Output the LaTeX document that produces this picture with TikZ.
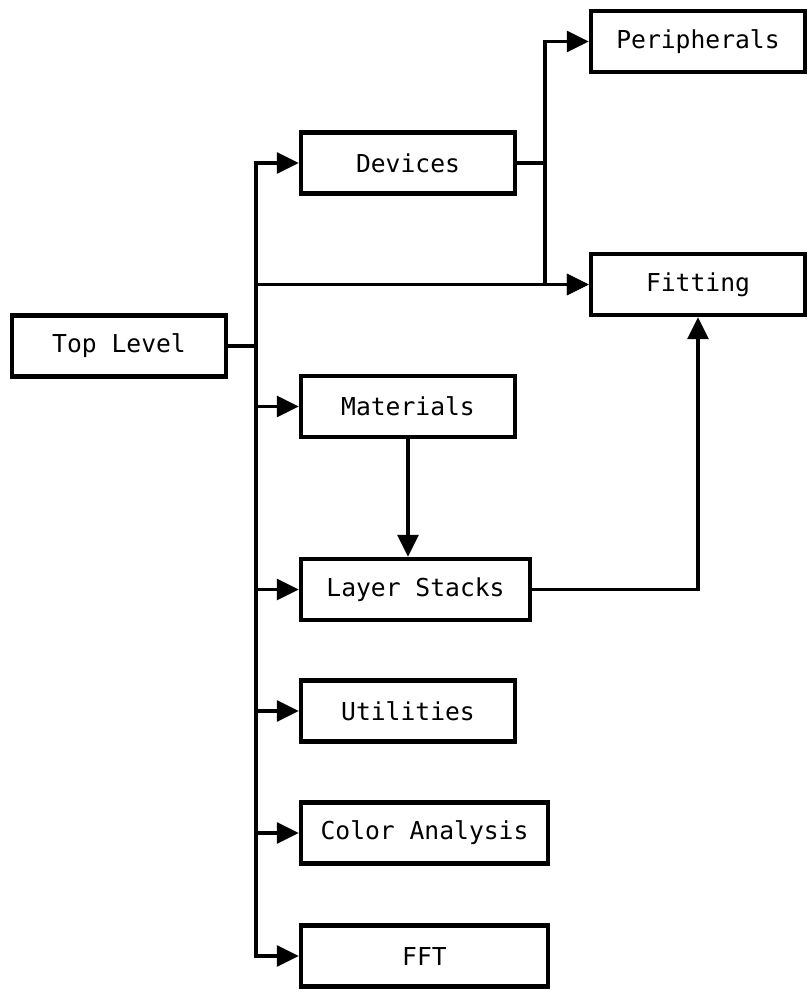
\documentclass[tikz,border=0pt]{standalone}
\usepackage{fontspec}
\setmonofont{DejaVu Sans Mono}
\usetikzlibrary{arrows.meta}
\tikzset{
  module/.style={draw, line width=3.2pt, minimum width=160.5pt, minimum height=45.75pt,
    inner sep=0pt, font=\ttfamily\fontsize{18.5}{22}\selectfont},
  link/.style={line width=2.8pt},
  arr/.style={link, -{Triangle[length=16.5pt,width=15.5pt]}}
}
\begin{document}
\begin{tikzpicture}[x=0.75pt, y=-0.75pt]
    \useasboundingbox (0,0) rectangle (809,994);
    \node[module] (top) at (119,346) {Top Level};
    \node[module] (dev) at (408,163) {Devices};
    \node[module] (per) at (698,41.5) {Peripherals};
    \node[module] (fit) at (698,284.5) {Fitting};
    \node[module] (mat) at (408,406.5) {Materials};
    \node[module, minimum width=171.75pt] (lay) at (415.5,589.5) {Layer Stacks};
    \node[module] (uti) at (408,711) {Utilities};
    \node[module, minimum width=185.25pt] (col) at (424.5,833) {Color Analysis};
    \node[module, minimum width=185.25pt] (fft) at (424.5,956) {FFT};
    % trunk from the top level
    \coordinate (trunk) at (256,346);
    \draw[link] (top.east) -- (trunk);
    \draw[arr] (trunk) |- (dev.west);
    \draw[arr] (trunk) |- (fit.west);
    \draw[arr] (trunk) |- (mat.west);
    \draw[arr] (trunk) |- (lay.west);
    \draw[arr] (trunk) |- (uti.west);
    \draw[arr] (trunk) |- (col.west);
    \draw[arr] (trunk) |- (fft.west);
    % devices branch
    \coordinate (split) at (545,163);
    \draw[link] (dev.east) -- (split);
    \draw[arr] (split) |- (per.west);
    \draw[arr] (split) |- (fit.west);
    % materials and layer stacks
    \draw[arr] (mat.south) -- (mat.south |- lay.north);
    \draw[arr] (lay.east) -| (fit.south);
\end{tikzpicture}
\end{document}
